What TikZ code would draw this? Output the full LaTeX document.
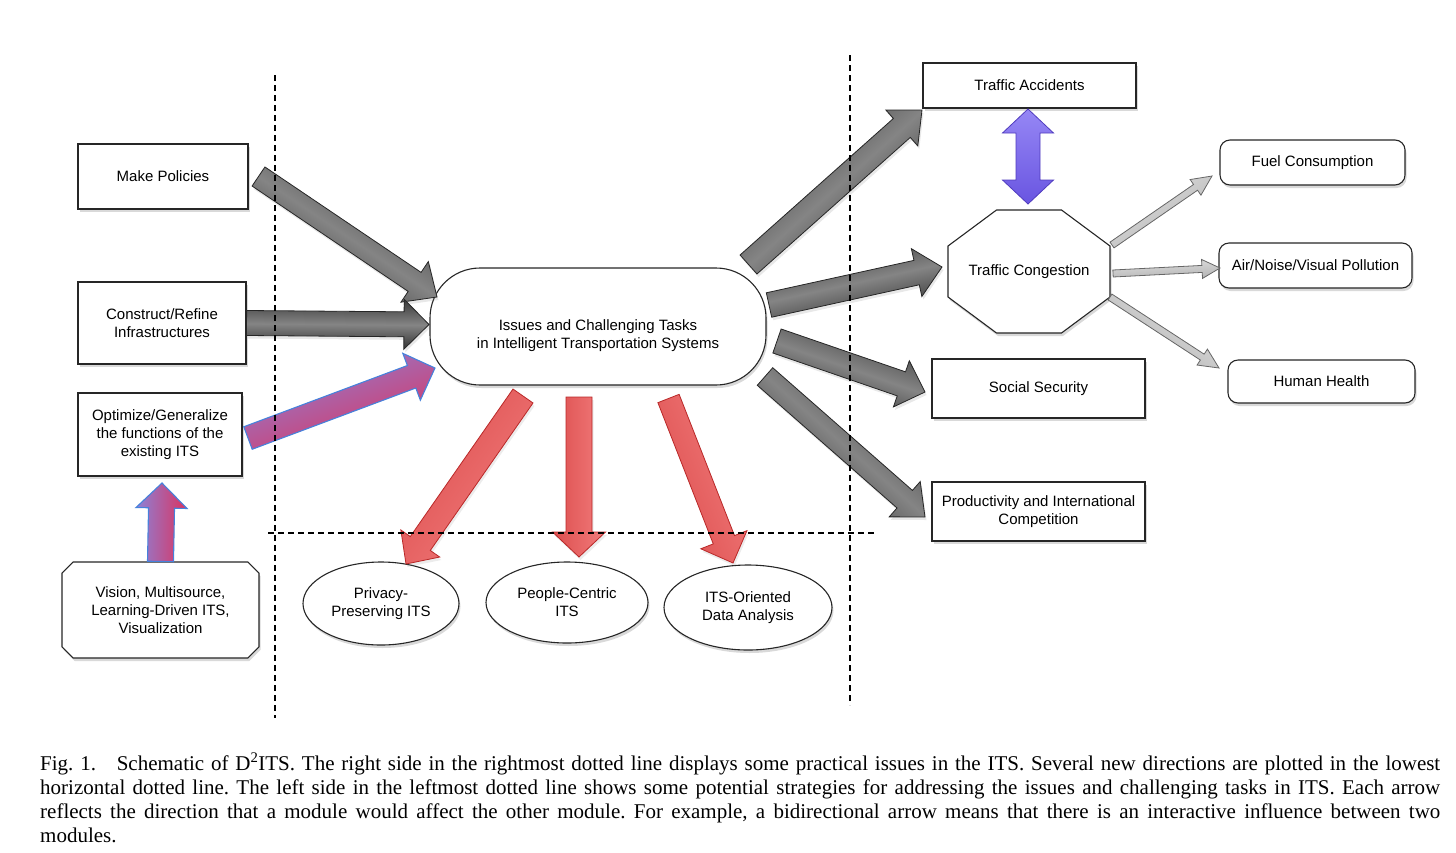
\documentclass[tikz,border=0pt]{standalone}
\usepackage{fontspec}
\setmainfont{Liberation Serif}
\newfontfamily\diagfont{Liberation Sans}
\usetikzlibrary{calc,shapes.geometric,shapes.misc,shadows}
\newcommand{\df}{\diagfont\fontsize{15}{18}\selectfont}
\newcommand{\blockarrow}[6]{%
  \path let \p1=(#2), \p2=(#3), \n1={atan2(\y2-\y1,\x2-\x1)} in \pgfextra{\xdef\baang{\n1}};
  \coordinate (bac) at ($(#3)!#6!(#2)$);
  \path[#1, shading angle=\baang] ($(#2)!#4!90:(#3)$) -- ($(bac)!#4!90:(#3)$) -- ($(bac)!#5!90:(#3)$) -- (#3) -- ($(bac)!#5!-90:(#3)$) -- ($(bac)!#4!-90:(#3)$) -- ($(#2)!#4!-90:(#3)$) -- cycle;}
\definecolor{redA}{RGB}{242,124,124}
\definecolor{redB}{RGB}{220,78,78}
\definecolor{redD}{RGB}{185,40,40}
\definecolor{pinkT}{RGB}{140,130,215}
\definecolor{pinkB}{RGB}{220,50,95}
\definecolor{pinkD}{RGB}{70,130,220}
\definecolor{purA}{RGB}{150,135,245}
\definecolor{purB}{RGB}{105,85,225}
\definecolor{purD}{RGB}{80,60,190}
\begin{document}
\begin{tikzpicture}[x=1pt,y=-1pt,
  shad/.style={drop shadow={shadow xshift=1.5pt,shadow yshift=-3pt,opacity=0.3}},
  box/.style={draw=black!85, line width=1.1pt, fill=white, font=\df, align=center, inner sep=2pt, shad},
  rbox/.style={box, rounded corners=10pt},
  oval/.style={box, ellipse, inner sep=0pt},
  darkarrow/.style={draw=black!85, line width=0.8pt, top color=black!78, bottom color=black!82, middle color=black!48, drop shadow={shadow xshift=1.5pt,shadow yshift=-3pt,opacity=0.18}},
  pinkarrow/.style={draw=pinkD, line width=1.1pt, top color=pinkT, bottom color=pinkB},
  redarrow/.style={draw=redD, line width=0.8pt, top color=redA, bottom color=redB, drop shadow={shadow xshift=1.5pt,shadow yshift=-3pt,opacity=0.15}},
  lightarrow/.style={draw=black!60, line width=0.8pt, top color=black!12, bottom color=black!30},
  divider/.style={draw=black, line width=1.1pt, dash pattern=on 6pt off 4pt}]
\useasboundingbox (0,0) rectangle (1456,852);

% left column
\node[box, minimum width=170, minimum height=65] (mp) at (163,176.5) {Make Policies};
\node[box, minimum width=168, minimum height=82] (cr) at (162,323) {Construct/Refine\\Infrastructures};
\node[box, minimum width=164, minimum height=83] (og) at (160,434.5) {Optimize/Generalize\\the functions of the\\existing ITS};
\node[box, chamfered rectangle, chamfered rectangle xsep=8pt, minimum width=197, minimum height=96] (vi) at (160.5,610) {Vision, Multisource,\\Learning-Driven ITS,\\Visualization};

% centre
\node[box, rounded corners=50pt, minimum width=336, minimum height=117] (ct) at (598,326.5) {};
\node[font=\df, align=center, inner sep=0pt] (cttext) at ($(ct.center)+(0,9)$) {Issues and Challenging Tasks\\in Intelligent Transportation Systems};

% right column
\node[box, minimum width=213, minimum height=45] (ta) at (1029.5,85.5) {Traffic Accidents};
\coordinate (tcc) at (1029,271.5);
\path[draw=black!85, line width=1.1pt, fill=white, shad]
  ($(tcc)+(-32.5,-61.5)$) -- ($(tcc)+(32.5,-61.5)$) -- ($(tcc)+(81,-25.5)$) -- ($(tcc)+(81,25.5)$)
  -- ($(tcc)+(32.5,61.5)$) -- ($(tcc)+(-32.5,61.5)$) -- ($(tcc)+(-81,25.5)$) -- ($(tcc)+(-81,-25.5)$) -- cycle;
\node[font=\df, inner sep=0pt, minimum width=162, minimum height=123] (tc) at (tcc) {Traffic Congestion};
\node[box, minimum width=213, minimum height=59] (ss) at (1038.5,388.5) {Social Security};
\node[box, minimum width=213, minimum height=59] (pi) at (1038.5,511.5) {Productivity and International\\Competition};
\node[rbox, minimum width=185, minimum height=45] (fc) at (1312.5,162.5) {Fuel Consumption};
\node[rbox, minimum width=193, minimum height=45, inner sep=1pt] (ap) at (1315.5,265.5) {Air/Noise/Visual Pollution};
\node[rbox, minimum width=187, minimum height=43] (hh) at (1321.5,381.5) {Human Health};

% bottom ovals
\node[oval, minimum width=156, minimum height=83] (pp) at (381,603.5) {Privacy-\\Preserving ITS};
\node[oval, minimum width=162, minimum height=81] (pc) at (567,602.5) {People-Centric\\ITS};
\node[oval, minimum width=168, minimum height=85] (io) at (748,607.5) {ITS-Oriented\\Data Analysis};

% arrow end points
\coordinate (a1s) at (258.5,176.5); \coordinate (a1e) at (437,297);
\coordinate (a2s) at (cr.east);     \coordinate (a2e) at (429,324.5);
\coordinate (a3s) at (248,438);     \coordinate (a3e) at (435,368);
\coordinate (a4s) at (vi.north);    \coordinate (a4e) at (162,483);
\coordinate (a5s) at (748.5,264.5); \coordinate (a5e) at (922,110);
\coordinate (a6s) at (769,305);     \coordinate (a6e) at (942,267);
\coordinate (a7s) at (777,341);     \coordinate (a7e) at (925,392);
\coordinate (a8s) at (765,376.5);   \coordinate (a8e) at (925,517);
\coordinate (r1s) at (523,396);     \coordinate (r1e) at (406,564);
\coordinate (r2s) at (579,397);     \coordinate (r2e) at (579,557);
\coordinate (r3s) at (668.5,398.5); \coordinate (r3e) at (733,563);
\coordinate (l1s) at (1112,245);    \coordinate (l1e) at (1212,176);
\coordinate (l2s) at (1113,273.5);  \coordinate (l2e) at (1220,268);
\coordinate (l3s) at (1110,297);    \coordinate (l3e) at (1219,368);
\coordinate (bt) at (1028,109);     \coordinate (bb) at (1028,204);

% dark arrows
\blockarrow{darkarrow}{a1s}{a1e}{11.5pt}{24.5pt}{27pt}
\blockarrow{darkarrow}{a2s}{a2e}{12.5pt}{25pt}{25pt}
\blockarrow{darkarrow}{a5s}{a5e}{12.7pt}{24pt}{27pt}
\blockarrow{darkarrow}{a6s}{a6e}{12.5pt}{24.5pt}{26pt}
\blockarrow{darkarrow}{a7s}{a7e}{12.7pt}{24.4pt}{25pt}
\blockarrow{darkarrow}{a8s}{a8e}{11.7pt}{23.5pt}{27pt}
% pink arrows
\blockarrow{pinkarrow}{a3s}{a3e}{12pt}{25pt}{25pt}
\blockarrow{pinkarrow}{a4s}{a4e}{13pt}{25.5pt}{25pt}
% red arrows
\blockarrow{redarrow}{r1s}{r1e}{12.2pt}{23.7pt}{25pt}
\blockarrow{redarrow}{r2s}{r2e}{13pt}{26.5pt}{25pt}
\blockarrow{redarrow}{r3s}{r3e}{11.4pt}{24.8pt}{25pt}
% light arrows
\blockarrow{lightarrow}{l1s}{l1e}{3.5pt}{9.5pt}{20pt}
\blockarrow{lightarrow}{l2s}{l2e}{3.5pt}{9.5pt}{18pt}
\blockarrow{lightarrow}{l3s}{l3e}{3.5pt}{9.5pt}{20pt}
% bidirectional arrow
\path[draw=purD, line width=0.8pt, top color=purA, bottom color=purB]
  (bt) -- ($(bt)+(25.5,24)$) -- ($(bt)+(12,24)$) -- ($(bb)+(12,-24)$) -- ($(bb)+(25.5,-24)$)
  -- (bb) -- ($(bb)+(-25.5,-24)$) -- ($(bb)+(-12,-24)$) -- ($(bt)+(-12,24)$) -- ($(bt)+(-25.5,24)$) -- cycle;

% dotted dividers
\coordinate (dlt) at (275,75);  \coordinate (dlb) at (275,718);
\coordinate (drt) at (850,55);  \coordinate (drb) at (850,705);
\coordinate (dhl) at (268,533); \coordinate (dhr) at (875,533);
\draw[divider] (dlt) -- (dlb);
\draw[divider] (drt) -- (drb);
\draw[divider] (dhl) -- (dhr);

% caption
\node[anchor=north west, text width=1400pt, inner sep=0pt, align=justify,
      font={\fontsize{21}{24}\selectfont\hyphenpenalty=10000\frenchspacing}] (cap) at (40,753)
 {Fig.~1.\hspace{14pt} Schematic of D\textsuperscript{2}ITS. The right side in the rightmost dotted line displays some practical issues in the ITS. Several new directions are plotted in the lowest\linebreak
 horizontal dotted line. The left side in the leftmost dotted line shows some potential strategies for addressing the issues and challenging tasks in ITS. Each arrow\linebreak
 reflects the direction that a module would affect the other module. For example, a bidirectional arrow means that there is an interactive influence between two\linebreak
 modules.};
\end{tikzpicture}
\end{document}
